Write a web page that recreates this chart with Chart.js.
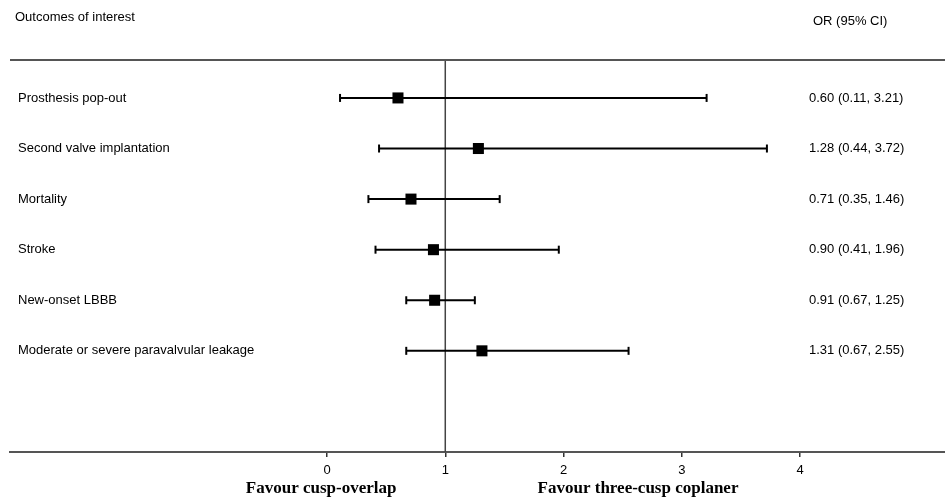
<!DOCTYPE html>
<html>
<head>
<meta charset="utf-8">
<script src="https://cdn.jsdelivr.net/npm/chart.js@4.4.1/dist/chart.umd.min.js"></script>
<style>
  html, body { margin: 0; padding: 0; background: #fff; overflow: hidden; }
  #wrap { width: 945px; height: 502px; position: relative; }
  canvas { display: block; }
</style>
</head>
<body>
<div id="wrap"><canvas id="forest"></canvas></div>
<script>
var outcomes = ["Prosthesis pop-out", "Second valve implantation", "Mortality", "Stroke",
  "New-onset LBBB", "Moderate or severe paravalvular leakage"];
var oddsRatio = [0.60, 1.28, 0.71, 0.90, 0.91, 1.31];
var ciLower = [0.11, 0.44, 0.35, 0.41, 0.67, 0.67];
var ciUpper = [3.21, 3.72, 1.46, 1.96, 1.25, 2.55];
var xTicks = [0, 1, 2, 3, 4];

var font = "'Liberation Sans', Arial, sans-serif";

// one line per outcome, caps drawn as rotated 'line' points
var datasets = [];
outcomes.forEach(function (name, i) {
  datasets.push({
    type: 'line',
    data: [{x: ciLower[i], y: i}, {x: ciUpper[i], y: i}],
    borderColor: '#000',
    borderWidth: 2,
    pointStyle: 'line',
    rotation: 90,
    pointRadius: 4,
    pointBorderWidth: 2,
    pointBorderColor: '#000',
    pointHoverRadius: 4
  });
});
datasets.push({
  type: 'scatter',
  data: oddsRatio.map(function (v, i) { return {x: v, y: i}; }),
  pointStyle: 'rect',
  pointRadius: 7.8,
  pointHoverRadius: 7.8,
  backgroundColor: '#000',
  borderColor: '#000',
  borderWidth: 0
});
// line of no effect
datasets.push({
  type: 'line',
  data: [{x: 1, y: -0.75}, {x: 1, y: 7}],
  borderColor: '#444',
  borderWidth: 1.5,
  pointRadius: 0
});

var textPlugin = {
  id: 'forestText',
  afterDraw: function (chart) {
    var c = chart.ctx, area = chart.chartArea;
    var xs = chart.scales.x, ys = chart.scales.y;
    c.save();
    // top rule
    c.strokeStyle = '#555';
    c.lineWidth = 2;
    c.beginPath();
    c.moveTo(area.left, area.top);
    c.lineTo(area.right, area.top);
    c.stroke();

    c.fillStyle = '#000';
    c.textBaseline = 'middle';
    c.font = '13px ' + font;
    c.textAlign = 'left';
    c.fillText('Outcomes of interest', 15, 17);
    c.fillText('OR (95% CI)', 813, 21);
    outcomes.forEach(function (name, i) {
      var y = ys.getPixelForValue(i);
      c.fillText(name, 18, y);
      c.fillText(oddsRatio[i].toFixed(2) + ' (' + ciLower[i].toFixed(2) + ', ' +
        ciUpper[i].toFixed(2) + ')', 809, y);
    });

    c.font = 'bold 17px "Liberation Serif", "Times New Roman", serif';
    c.textAlign = 'center';
    c.fillText('Favour cusp-overlap', xs.getPixelForValue(-0.05), 489);
    c.fillText('Favour three-cusp coplaner', xs.getPixelForValue(2.63), 489);
    c.restore();
  }
};

new Chart(document.getElementById('forest'), {
  data: { datasets: datasets },
  options: {
    responsive: true,
    maintainAspectRatio: false,
    animation: false,
    layout: { autoPadding: false, padding: { left: 10, right: 0, top: 60, bottom: 0 } },
    plugins: { legend: { display: false }, tooltip: { enabled: false } },
    scales: {
      x: {
        type: 'linear',
        min: -2.681,
        max: 5.226,
        afterBuildTicks: function (s) {
          s.ticks = xTicks.map(function (v) { return {value: v}; });
        },
        afterFit: function (s) { s.height = 50; },
        grid: {
          drawOnChartArea: false,
          drawTicks: true,
          tickLength: 5,
          color: '#333',
          lineWidth: 1.5
        },
        border: { display: true, color: '#555', width: 2 },
        ticks: {
          color: '#000',
          padding: 6,
          font: { family: font, size: 13 }
        }
      },
      y: {
        type: 'linear',
        display: false,
        reverse: true,
        min: -0.75,
        max: 7
      }
    }
  },
  plugins: [textPlugin]
});
</script>
</body>
</html>
